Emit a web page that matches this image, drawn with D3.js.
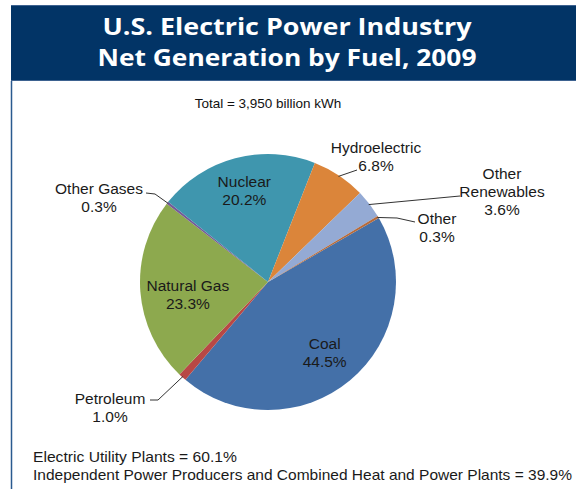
<!DOCTYPE html>
<html>
<head>
<meta charset="utf-8">
<script src="https://cdn.jsdelivr.net/npm/d3@7/dist/d3.min.js"></script>
<style>
  html, body { margin: 0; padding: 0; background: #ffffff; }
  svg { display: block; }
</style>
</head>
<body>
<svg id="chart" width="576" height="489"></svg>
<script>
// ---- Data ----
const titleLines = ["U.S. Electric Power Industry", "Net Generation by Fuel, 2009"];
const subtitle = "Total = 3,950 billion kWh";
const categories = ["Coal", "Petroleum", "Natural Gas", "Other Gases", "Nuclear", "Hydroelectric", "Other Renewables", "Other"];
const shares = [44.5, 1.0, 23.3, 0.3, 20.2, 6.8, 3.6, 0.3];
const labelNames = [["Coal"], ["Petroleum"], ["Natural Gas"], ["Other Gases"], ["Nuclear"], ["Hydroelectric"], ["Other", "Renewables"], ["Other"]];
const footnotes = ["Electric Utility Plants = 60.1%", "Independent Power Producers and Combined Heat and Power Plants = 39.9%"];

// ---- Styles / layout ----
const colors = ["#4470A8", "#B84845", "#8DA94E", "#755A98", "#3F96AE", "#DB853A", "#94AAD4", "#B56A3B"];
const cx = 268, cy = 282, R = 128;
const lineH = 18;
const labelLayout = [
  {inside: true, k: 0.69, nx: 0, ny: 3},
  {inside: false, tx: 110, ty: 398, leader: [[158, 400], [150, 400]]},
  {inside: true, k: 0.62, nx: -1, ny: 7},
  {inside: false, tx: 99, ty: 188, leader: [[155, 194], [146, 193]]},
  {inside: true, k: 0.72, nx: 0, ny: -2},
  {inside: false, tx: 376, ty: 147, leader: [[357, 170]]},
  {inside: false, tx: 502, ty: 173, leader: [[460, 196]]},
  {inside: false, tx: 437, ty: 218, leader: [[397, 218], [415, 222]]}
];

const svg = d3.select("#chart");

// Header
svg.append("rect").attr("x", 11).attr("y", 5).attr("width", 565).attr("height", 76).attr("fill", "#023466");
svg.append("line").attr("x1", 11).attr("x2", 576).attr("y1", 5.5).attr("y2", 5.5).attr("stroke", "#3d6290").attr("stroke-width", 1);
svg.append("line").attr("x1", 11).attr("x2", 576).attr("y1", 80.5).attr("y2", 80.5).attr("stroke", "#3d6290").attr("stroke-width", 1);
svg.append("line").attr("x1", 11.5).attr("x2", 11.5).attr("y1", 81).attr("y2", 489).attr("stroke", "#2a5a8f").attr("stroke-width", 1.5);

const titleWidths = [369, 379];
svg.selectAll("text.title").data(titleLines).enter().append("text")
  .attr("class", "title")
  .attr("x", 287).attr("y", (d, i) => 35 + i * 31)
  .attr("text-anchor", "middle")
  .attr("textLength", (d, i) => titleWidths[i])
  .attr("lengthAdjust", "spacingAndGlyphs")
  .style("font-family", "'Open Sans', 'DejaVu Sans', sans-serif")
  .style("font-weight", "bold")
  .style("font-size", "23px")
  .style("fill", "#ffffff")
  .text(d => d);

// Subtitle
svg.append("text").attr("x", 268).attr("y", 108).attr("text-anchor", "middle")
  .style("font-family", "'Liberation Sans', Arial, sans-serif").style("font-size", "13.5px").style("fill", "#111")
  .text(subtitle);

// Pie
const start = 60 * Math.PI / 180;
const pie = d3.pie().sort(null).value(d => d).startAngle(start).endAngle(start + 2 * Math.PI);
const arcs = pie(shares);
const arc = d3.arc().innerRadius(0).outerRadius(R);

const g = svg.append("g").attr("transform", `translate(${cx},${cy})`);
g.selectAll("path.slice").data(arcs).enter().append("path")
  .attr("class", "slice")
  .attr("d", arc)
  .attr("fill", (d, i) => colors[i]);

// Labels
const fontStyle = (sel, size) => sel.style("font-family", "'Liberation Sans', Arial, sans-serif").style("font-size", size).style("fill", "#1a1a1a");

arcs.forEach((a, i) => {
  const L = labelLayout[i];
  const lines = labelNames[i].concat([shares[i].toFixed(1) + "%"]);
  let tx, ty;
  if (L.inside) {
    const c = d3.arc().innerRadius(R * L.k).outerRadius(R * L.k).centroid(a);
    tx = cx + c[0] + L.nx;
    ty = cy + c[1] + L.ny - (lines.length - 1) * lineH / 2;
  } else {
    tx = L.tx; ty = L.ty;
    const mid = (a.startAngle + a.endAngle) / 2;
    const p0 = [cx + Math.sin(mid) * (R - 1), cy - Math.cos(mid) * (R - 1)];
    const pts = [p0].concat(L.leader);
    svg.append("path").attr("d", d3.line()(pts)).attr("fill", "none").attr("stroke", "#333").attr("stroke-width", 1);
  }
  lines.forEach((t, j) => {
    svg.append("text").attr("x", tx).attr("y", ty + j * lineH + 5.5).attr("text-anchor", "middle").call(fontStyle, "15.5px").text(t);
  });
});

// Footnotes
const footWidths = [204, 539];
svg.selectAll("text.foot").data(footnotes).enter().append("text")
  .attr("class", "foot")
  .attr("x", 33).attr("y", (d, i) => 462 + i * 18)
  .attr("textLength", (d, i) => footWidths[i])
  .attr("lengthAdjust", "spacingAndGlyphs")
  .call(fontStyle, "15px")
  .text(d => d);
</script>
</body>
</html>
